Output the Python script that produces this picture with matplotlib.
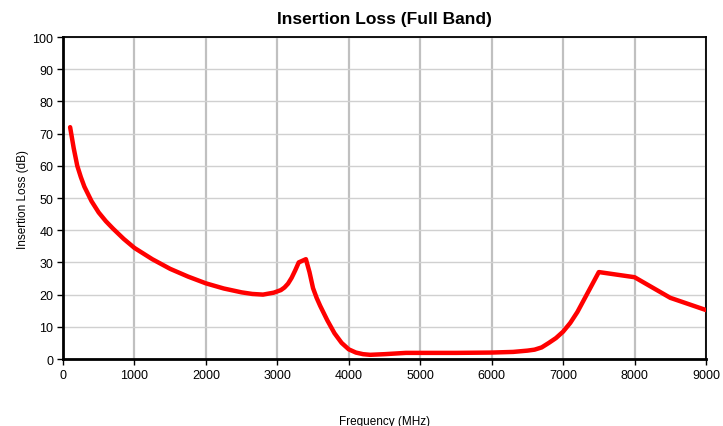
import matplotlib
matplotlib.use("Agg")
from matplotlib import pyplot as plt

plt.rcParams['font.family'] = ['Liberation Sans', 'DejaVu Sans']

freq = [100, 150, 200, 250, 300, 400, 500, 600, 700, 850, 1000, 1250, 1500,
        1750, 2000, 2250, 2500, 2650, 2800, 2950, 3050, 3100, 3150, 3200,
        3250, 3300, 3400, 3450, 3500, 3550, 3600, 3700, 3800, 3900,
        4000, 4100, 4200, 4300, 4500, 4800, 5000, 5500, 6000, 6300, 6500,
        6600, 6700, 6800, 6900, 7000, 7100, 7200, 7500, 8000, 8500, 9000]
loss = [72, 65.5, 60, 56.5, 53.5, 49, 45.5, 42.8, 40.5, 37.3, 34.5, 31, 28,
        25.6, 23.5, 21.9, 20.7, 20.2, 20, 20.6, 21.4, 22.2, 23.4, 25.2,
        27.5, 30, 31, 27, 22, 19, 16.5, 12, 8, 5,
        3, 2, 1.5, 1.3, 1.5, 1.9, 1.9, 1.9, 2, 2.2, 2.6,
        2.9, 3.6, 5, 6.5, 8.5, 11.2, 14.6, 27, 25.4, 19, 15.2]

fig = plt.figure(figsize=(7.23, 4.27), dpi=100)
ax = fig.add_axes([0.0871, 0.1569, 0.8894, 0.7541])

ax.plot(freq, loss, color='#ff0000', linewidth=3.2, solid_capstyle='round',
        solid_joinstyle='round', zorder=3)

ax.set_xlim(0, 9000)
ax.set_ylim(0, 100)
ax.set_xticks(range(0, 9001, 1000))
ax.set_yticks(range(0, 101, 10))
ax.xaxis.grid(True, color='#c0c0c0', linewidth=1.6)
ax.yaxis.grid(True, color='#d0d0d0', linewidth=1.0)
ax.set_axisbelow(True)
for s in ax.spines.values():
    s.set_color('black')
    s.set_linewidth(1.3)
ax.spines['left'].set_linewidth(2)
ax.spines['bottom'].set_linewidth(2)
ax.tick_params(direction='out', length=4, width=1, labelsize=9, pad=3)

ax.set_title('Insertion Loss (Full Band)', fontsize=12.5, fontweight='bold', pad=10)
ax.set_xlabel('Frequency (MHz)', fontsize=8.5, labelpad=25)
ax.set_ylabel('Insertion Loss (dB)', fontsize=8.5, labelpad=2)

plt.savefig('out.png', dpi=100)
plt.close()
